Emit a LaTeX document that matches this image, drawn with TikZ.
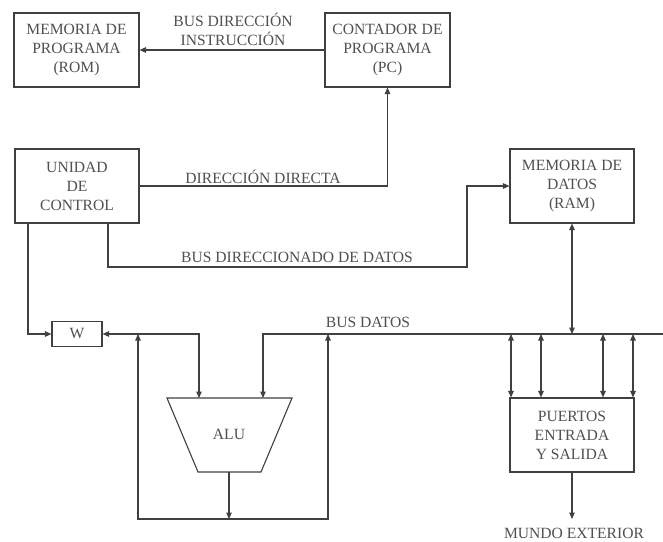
\documentclass[tikz,border=0pt]{standalone}
\usepackage{fontspec}
\setmainfont{Liberation Serif}
\usetikzlibrary{arrows.meta}
\definecolor{ln}{HTML}{404040}
\definecolor{tx}{HTML}{505050}
\begin{document}
\begin{tikzpicture}[x=1pt,y=-1pt,
  every node/.style={font=\fontsize{15.6}{19}\selectfont, text=tx, align=center, inner sep=0pt},
  blk/.style={draw=ln, line width=1.1pt, fill=white},
  wire/.style={draw=ln, line width=1.1pt},
  tri/.tip={Triangle[length=6.5pt,width=5.5pt]},
  lbl/.style={}]
\useasboundingbox (0,0) rectangle (663,541);
% blocks
\node[blk, minimum width=125pt, minimum height=74pt] (rom) at (76.5,50) {MEMORIA DE\\PROGRAMA\\(ROM)};
\node[blk, minimum width=125pt, minimum height=74pt] (pc) at (387.5,50) {CONTADOR DE\\PROGRAMA\\(PC)};
\node[blk, minimum width=124pt, minimum height=74pt] (uc) at (77,186) {UNIDAD\\DE\\CONTROL};
\node[blk, minimum width=124pt, minimum height=74pt] (ram) at (572,186) {MEMORIA DE\\DATOS\\(RAM)};
\node[blk, minimum width=124pt, minimum height=74pt] (io) at (572,435) {PUERTOS\\ENTRADA\\Y SALIDA};
\node[blk, minimum width=50pt, minimum height=25pt] (w) at (77,334) {W};
% ALU
\draw[wire, fill=white] (167,398) -- (292,398) -- (261,472) -- (198,472) -- cycle;
\node (alu) at (229,434) {ALU};
\coordinate (aluin1) at (199,398);
\coordinate (aluin2) at (263,398);
\coordinate (aluout) at (229,472);
% coordinates
\coordinate (busr) at (663,334);
\coordinate (bl) at (138,519);
\coordinate (br) at (328,519);
\coordinate (ab) at (229,519);
\coordinate (mundo) at (572,519);
% connectors
\draw[wire, -{tri}] (pc.west) -- (rom.east);
\draw[wire, -{tri}] (uc.east) -| (pc.south);
\draw[wire, -{tri}] (uc.south -| 108,0) |- (467,267) |- (ram.west);
\draw[wire, -{tri}] (uc.south -| 28,0) |- (w.west);
\draw[wire, {tri}-{tri}] (w.east) -- (199,334) -- (aluin1);
\draw[wire, -{tri}] (busr) -| (aluin2);
\draw[wire, -{tri}] (aluout) -- (ab);
\draw[wire, {tri}-{tri}] (138,334) -- (bl) -- (br) -- (328,334);
\draw[wire, {tri}-{tri}] (ram.south) -- (572,334);
\foreach \x in {511,541,603,633}
  \draw[wire, {tri}-{tri}] (\x,334) -- (io.north -| \x,0);
\draw[wire, -{tri}] (io.south) -- (mundo);
% labels
\node (l1) at (233,29) {BUS DIRECCIÓN\\INSTRUCCIÓN};
\node (l2) at (263,177) {DIRECCIÓN DIRECTA};
\node (l3) at (297,257) {BUS DIRECCIONADO DE DATOS};
\node (l4) at (368,322) {BUS DATOS};
\node (l5) at (574,533) {MUNDO EXTERIOR};
\end{tikzpicture}
\end{document}
